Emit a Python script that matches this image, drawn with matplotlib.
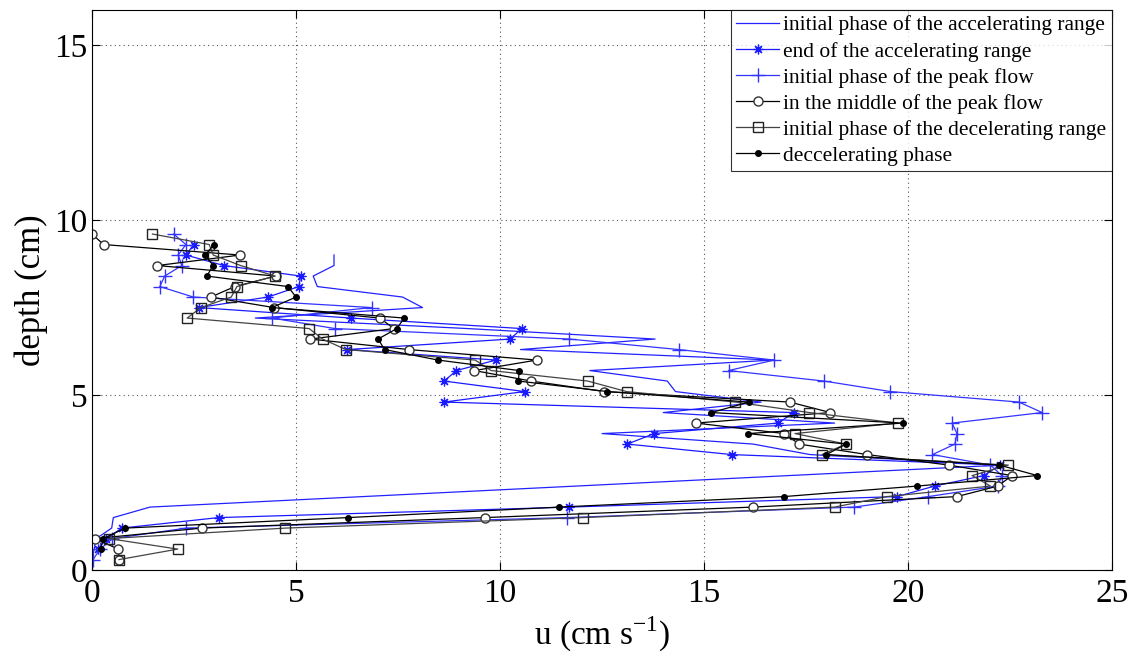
import matplotlib.pyplot as plt

plt.rcParams["font.family"] = ["Liberation Serif", "DejaVu Serif"]
plt.rcParams["mathtext.fontset"] = "custom"
plt.rcParams["mathtext.rm"] = "Liberation Serif"

# depth profiles of streamwise velocity u (cm/s) against depth (cm)
depth = [0.3, 0.6, 0.9, 1.2, 1.5, 1.8, 2.1, 2.4, 2.7, 3.0, 3.3, 3.6, 3.9, 4.2, 4.5, 4.8,
         5.1, 5.4, 5.7, 6.0, 6.3, 6.6, 6.9, 7.2, 7.5, 7.8, 8.1, 8.4, 8.7, 9.0, 9.3, 9.6]

# initial phase of the accelerating range (own depth stations)
acc_init_depth = [0.3, 0.6, 0.9, 1.2, 1.5, 1.8, 3.0, 3.3, 3.6, 3.9, 4.2, 4.5, 4.8, 5.1,
                  5.4, 5.7, 6.0, 6.3, 6.6, 6.9, 7.2, 7.5, 7.8, 8.1, 8.4, 8.7, 9.0]
acc_init_u = [0.0, 0.05, 0.1, 0.48, 0.52, 1.42, 22.3, 17.6, 16.2, 12.5, 18.2, 14.0, 16.4,
              14.3, 14.1, 12.2, 16.7, 10.5, 13.8, 9.2, 4.0, 8.1, 7.61, 5.52, 5.42, 5.93, 5.93]

acc_end_depth = depth[1:31]
acc_end_u = [0.15, 0.35, 0.73, 3.1, 11.7, 19.73, 20.65, 21.86, 22.25, 15.68, 13.12, 13.78,
             16.82, 17.2, 8.63, 10.6, 8.63, 8.93, 9.9, 6.26, 10.25, 10.53, 6.34, 2.61, 4.31,
             5.07, 5.11, 3.23, 2.3, 2.49]

peak_init_u = [0.02, 0.2, 0.5, 2.31, 11.65, 18.68, 20.5, 22.2, 22.3, 22.02, 20.6, 21.15,
               21.2, 21.08, 23.29, 22.72, 19.57, 17.94, 15.6, 16.72, 14.38, 11.7, 5.95, 4.41,
               6.85, 2.48, 1.66, 1.78, 2.2, 2.11, 2.3, 2.0]

peak_mid_u = [0.66, 0.64, 0.07, 2.69, 9.62, 16.2, 21.2, 22.2, 22.55, 21.0, 19.0, 17.33,
              16.97, 14.8, 18.1, 17.1, 12.56, 10.76, 9.37, 10.9, 7.76, 5.35, 7.4, 7.05, 4.45,
              2.91, 3.5, 4.5, 1.6, 3.63, 0.28, 0.0]

dec_init_u = [0.66, 2.1, 0.41, 4.74, 12.03, 18.2, 19.48, 22.02, 21.57, 22.46, 17.89, 18.48,
              17.23, 19.75, 17.58, 15.77, 13.1, 12.15, 9.78, 9.39, 6.22, 5.65, 5.32, 2.33,
              2.67, 3.41, 3.55, 4.49, 3.64, 2.97, 2.87, 1.48]

dec_depth = depth[1:31]
dec_u = [0.21, 0.27, 0.81, 6.27, 11.45, 16.96, 20.22, 23.17, 22.24, 18.0, 18.48, 16.08,
         19.87, 15.18, 16.1, 12.63, 10.45, 10.47, 8.48, 7.17, 7.01, 7.47, 7.65, 4.41, 5.0,
         4.8, 2.81, 2.97, 2.77, 2.99]

fig = plt.figure(figsize=(11.37, 6.66), dpi=100)
ax = fig.add_axes([0.081, 0.144, 0.897, 0.841])

lw = 0.9
asterisk = (8, 2, 0)
ax.plot(acc_init_u, acc_init_depth, color="#2222ff", lw=lw,
        label="initial phase of the accelerating range")
ax.plot(acc_end_u, acc_end_depth, color="#1a1aff", lw=lw, marker=asterisk, ms=7, mew=0.9,
        label="end of the accelerating range")
ax.plot(peak_init_u, depth, color="#3333ff", lw=lw, marker="+", ms=10, mew=1,
        label="initial phase of the peak flow")
ax.plot(peak_mid_u, depth, color="black", lw=lw, marker="o", ms=6.5, mfc="white",
        mec="#333333", label="in the middle of the peak flow")
ax.plot(dec_init_u, depth, color="#444444", lw=lw, marker="s", ms=7, mfc="none",
        mec="#222222", label="initial phase of the decelerating range")
ax.plot(dec_u, dec_depth, color="black", lw=lw, marker="o", ms=4, mfc="black",
        label="deccelerating phase")

ax.set_xlim(0, 25)
ax.set_ylim(0, 16)
ax.set_xticks([0, 5, 10, 15, 20, 25])
ax.set_yticks([0, 5, 10, 15])
ax.tick_params(labelsize=24, direction="in", length=6, top=True, right=True)
ax.tick_params(axis="x", pad=6)
ax.grid(True, linestyle=(0, (1, 3)), color="#555555", lw=0.8)
for s in ax.spines.values():
    s.set_linewidth(0.8)

ax.set_xlabel("u (cm s$^{\\mathrm{-1}}$)", fontsize=24, labelpad=4)
ax.set_ylabel("depth (cm)", fontsize=25, labelpad=4)

leg = ax.legend(loc="upper right", fontsize=15.5, frameon=True, fancybox=False,
                edgecolor="black", borderaxespad=0, handlelength=2.0,
                handletextpad=0.2, labelspacing=0.28, borderpad=0.25)
leg.get_frame().set_linewidth(0.8)

fig.savefig("out.png", dpi=100)
